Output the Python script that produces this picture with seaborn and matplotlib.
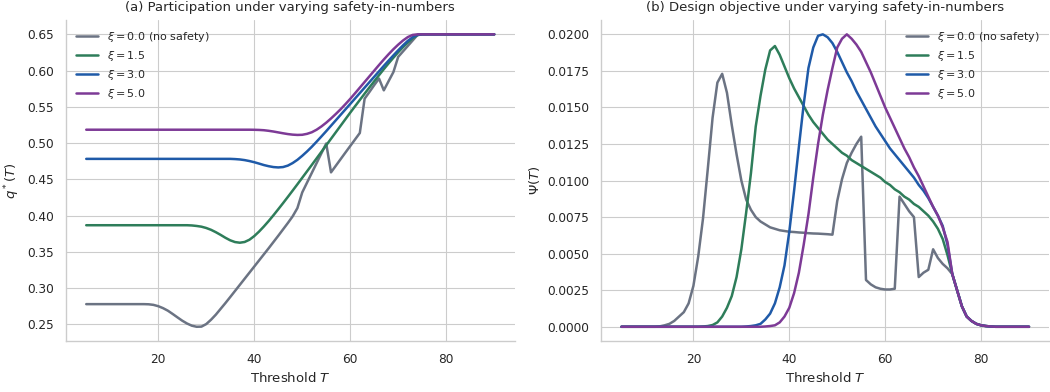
import numpy as np
import pandas as pd
import seaborn as sns
import matplotlib
matplotlib.use("Agg")
import matplotlib.pyplot as plt

# Threshold grid
T = np.arange(5, 91)

# Equilibrium participation q*(T) for each safety-in-numbers strength xi
q_xi0 = [
    0.278, 0.278, 0.278, 0.278, 0.278, 0.278, 0.278, 0.278, 0.278, 0.278,
    0.278, 0.278, 0.278, 0.2778, 0.2770, 0.2752, 0.2725, 0.2690, 0.2645, 0.2598,
    0.2552, 0.2513, 0.2483, 0.2468, 0.2470, 0.2505, 0.2565, 0.2635, 0.2715, 0.2795,
    0.2878, 0.2962, 0.3046, 0.3130, 0.3214, 0.3298, 0.3382, 0.3466, 0.3550, 0.3636,
    0.3722, 0.3810, 0.3898, 0.3990, 0.4105, 0.4320, 0.4455, 0.4590, 0.4725, 0.4860,
    0.4995, 0.4597, 0.4688, 0.4779, 0.4870, 0.4960, 0.5050, 0.5140, 0.5613, 0.5705,
    0.5800, 0.5890, 0.5728, 0.5855, 0.5980, 0.6190, 0.6265, 0.6340, 0.6415, 0.6490,
    0.65, 0.65, 0.65, 0.65, 0.65, 0.65, 0.65, 0.65, 0.65, 0.65,
    0.65, 0.65, 0.65, 0.65, 0.65, 0.65,
]
q_xi15 = [
    0.3868, 0.3868, 0.3868, 0.3868, 0.3868, 0.3868, 0.3868, 0.3868, 0.3868, 0.3868,
    0.3868, 0.3868, 0.3868, 0.3868, 0.3868, 0.3868, 0.3868, 0.3868, 0.3868, 0.3868,
    0.3868, 0.3868, 0.3865, 0.3858, 0.3848, 0.3830, 0.3805, 0.3772, 0.3735, 0.3695,
    0.3660, 0.3636, 0.3627, 0.3637, 0.3668, 0.3718, 0.3780, 0.3850, 0.3925, 0.4005,
    0.4088, 0.4172, 0.4258, 0.4345, 0.4433, 0.4522, 0.4611, 0.4700, 0.4790, 0.4880,
    0.4970, 0.5060, 0.5150, 0.5240, 0.5330, 0.5420, 0.5508, 0.5595, 0.5682, 0.5768,
    0.5853, 0.5937, 0.6020, 0.6100, 0.6178, 0.6253, 0.6323, 0.6388, 0.6445, 0.6490,
    0.65, 0.65, 0.65, 0.65, 0.65, 0.65, 0.65, 0.65, 0.65, 0.65,
    0.65, 0.65, 0.65, 0.65, 0.65, 0.65,
]
q_xi30 = [
    0.4783, 0.4783, 0.4783, 0.4783, 0.4783, 0.4783, 0.4783, 0.4783, 0.4783, 0.4783,
    0.4783, 0.4783, 0.4783, 0.4783, 0.4783, 0.4783, 0.4783, 0.4783, 0.4783, 0.4783,
    0.4783, 0.4783, 0.4783, 0.4783, 0.4783, 0.4783, 0.4783, 0.4783, 0.4783, 0.4783,
    0.4783, 0.4780, 0.4775, 0.4766, 0.4753, 0.4737, 0.4718, 0.4698, 0.4682, 0.4670,
    0.4665, 0.4670, 0.4690, 0.4725, 0.4770, 0.4825, 0.4885, 0.4950, 0.5020, 0.5092,
    0.5165, 0.5240, 0.5315, 0.5390, 0.5465, 0.5540, 0.5615, 0.5690, 0.5765, 0.5840,
    0.5915, 0.5990, 0.6065, 0.6138, 0.6210, 0.6280, 0.6348, 0.6410, 0.6460, 0.6492,
    0.65, 0.65, 0.65, 0.65, 0.65, 0.65, 0.65, 0.65, 0.65, 0.65,
    0.65, 0.65, 0.65, 0.65, 0.65, 0.65,
]
q_xi50 = [
    0.5185, 0.5185, 0.5185, 0.5185, 0.5185, 0.5185, 0.5185, 0.5185, 0.5185, 0.5185,
    0.5185, 0.5185, 0.5185, 0.5185, 0.5185, 0.5185, 0.5185, 0.5185, 0.5185, 0.5185,
    0.5185, 0.5185, 0.5185, 0.5185, 0.5185, 0.5185, 0.5185, 0.5185, 0.5185, 0.5185,
    0.5185, 0.5185, 0.5185, 0.5185, 0.5185, 0.5184, 0.5182, 0.5178, 0.5170, 0.5160,
    0.5148, 0.5136, 0.5125, 0.5117, 0.5113, 0.5115, 0.5128, 0.5150, 0.5185, 0.5230,
    0.5282, 0.5340, 0.5402, 0.5467, 0.5537, 0.5610, 0.5687, 0.5765, 0.5843, 0.5921,
    0.5999, 0.6077, 0.6153, 0.6226, 0.6295, 0.6358, 0.6415, 0.6462, 0.6492, 0.6500,
    0.65, 0.65, 0.65, 0.65, 0.65, 0.65, 0.65, 0.65, 0.65, 0.65,
    0.65, 0.65, 0.65, 0.65, 0.65, 0.65,
]

# Design objective Psi(T) for each xi
psi_xi0 = [
    0.0, 0.0, 0.0, 0.0, 0.0, 0.0, 0.0, 0.0, 0.00003, 0.0001,
    0.0002, 0.0004, 0.0007, 0.0010, 0.0016, 0.0028, 0.0048, 0.0074, 0.0108, 0.0143,
    0.0167, 0.0173, 0.0160, 0.0138, 0.0118, 0.0100, 0.0087, 0.0080, 0.0075, 0.0072,
    0.0070, 0.0068, 0.0067, 0.0066, 0.00655, 0.0065, 0.00648, 0.00645, 0.00643, 0.0064,
    0.00638, 0.00637, 0.00635, 0.00633, 0.0063, 0.0086, 0.0101, 0.0112, 0.0119, 0.0125,
    0.0130, 0.0032, 0.0029, 0.0027, 0.0026, 0.00255, 0.00255, 0.0026, 0.0089, 0.0084,
    0.0079, 0.0075, 0.0034, 0.0037, 0.0039, 0.0053, 0.0047, 0.0043, 0.0040, 0.0036,
    0.0025, 0.0014, 0.0007, 0.0004, 0.0002, 0.0001, 0.00005, 0.00002, 0.0, 0.0,
    0.0, 0.0, 0.0, 0.0, 0.0, 0.0,
]
psi_xi15 = [
    0.0, 0.0, 0.0, 0.0, 0.0, 0.0, 0.0, 0.0, 0.0, 0.0,
    0.0, 0.0, 0.0, 0.0, 0.0, 0.0, 0.0, 0.00002, 0.00005, 0.00012,
    0.0003, 0.0007, 0.0013, 0.0021, 0.0034, 0.0053, 0.0078, 0.0105, 0.0137, 0.0158,
    0.0176, 0.0189, 0.0192, 0.0186, 0.0178, 0.0170, 0.0163, 0.0157, 0.0151, 0.0145,
    0.0140, 0.0136, 0.0132, 0.0128, 0.0125, 0.0122, 0.0119, 0.0117, 0.0114, 0.0112,
    0.0110, 0.0108, 0.0106, 0.0104, 0.0102, 0.0099, 0.0097, 0.0094, 0.0092, 0.0089,
    0.0087, 0.0084, 0.0082, 0.0079, 0.0076, 0.0072, 0.0067, 0.0060, 0.0049, 0.0036,
    0.0025, 0.0014, 0.0007, 0.0004, 0.0002, 0.0001, 0.00005, 0.00002, 0.0, 0.0,
    0.0, 0.0, 0.0, 0.0, 0.0, 0.0,
]
psi_xi30 = [
    0.0, 0.0, 0.0, 0.0, 0.0, 0.0, 0.0, 0.0, 0.0, 0.0,
    0.0, 0.0, 0.0, 0.0, 0.0, 0.0, 0.0, 0.0, 0.0, 0.0,
    0.0, 0.0, 0.0, 0.0, 0.0, 0.0, 0.00002, 0.00005, 0.0001, 0.0002,
    0.0005, 0.0009, 0.0016, 0.0027, 0.0042, 0.0065, 0.0093, 0.0123, 0.0152, 0.0177,
    0.0191, 0.0199, 0.0200, 0.0198, 0.0194, 0.0188, 0.0181, 0.0174, 0.0168, 0.0161,
    0.0155, 0.0149, 0.0143, 0.0137, 0.0132, 0.0127, 0.0122, 0.0118, 0.0114, 0.0110,
    0.0106, 0.0102, 0.0097, 0.0093, 0.0088, 0.0082, 0.0076, 0.0069, 0.0056, 0.0036,
    0.0025, 0.0014, 0.0007, 0.0004, 0.0002, 0.0001, 0.00005, 0.00002, 0.0, 0.0,
    0.0, 0.0, 0.0, 0.0, 0.0, 0.0,
]
psi_xi50 = [
    0.0, 0.0, 0.0, 0.0, 0.0, 0.0, 0.0, 0.0, 0.0, 0.0,
    0.0, 0.0, 0.0, 0.0, 0.0, 0.0, 0.0, 0.0, 0.0, 0.0,
    0.0, 0.0, 0.0, 0.0, 0.0, 0.0, 0.0, 0.0, 0.0, 0.0,
    0.00002, 0.00005, 0.0001, 0.0003, 0.0007, 0.0013, 0.0023, 0.0037, 0.0056, 0.0077,
    0.0102, 0.0125, 0.0145, 0.0162, 0.0177, 0.0191, 0.0197, 0.0200, 0.0197, 0.0193,
    0.0188, 0.0181, 0.0174, 0.0166, 0.0158, 0.0150, 0.0143, 0.0136, 0.0129, 0.0122,
    0.0116, 0.0109, 0.0103, 0.0096, 0.0089, 0.0082, 0.0076, 0.0068, 0.0058, 0.0036,
    0.0025, 0.0014, 0.0007, 0.0004, 0.0002, 0.0001, 0.00005, 0.00002, 0.0, 0.0,
    0.0, 0.0, 0.0, 0.0, 0.0, 0.0,
]

series_labels = [
    r"$\xi = 0.0$ (no safety)",
    r"$\xi = 1.5$",
    r"$\xi = 3.0$",
    r"$\xi = 5.0$",
]
colors = ["#6b7383", "#2e7d5a", "#1f5aa8", "#7d3a96"]

q_series = [q_xi0, q_xi15, q_xi30, q_xi50]
psi_series = [psi_xi0, psi_xi15, psi_xi30, psi_xi50]

frames = []
for label, q, psi in zip(series_labels, q_series, psi_series):
    frames.append(pd.DataFrame({"T": T, "q": q, "psi": psi, "xi": label}))
df = pd.concat(frames, ignore_index=True)

sns.set_theme(style="whitegrid", context="paper")
plt.rcParams.update({
    "xtick.labelsize": 8.7,
    "ytick.labelsize": 8.7,
    "axes.labelsize": 9.5,
    "axes.titlesize": 9.5,
    "legend.fontsize": 8,
})
palette = dict(zip(series_labels, colors))

fig = plt.figure(figsize=(10.5, 3.92), dpi=100)
ax1 = fig.add_axes([0.0627, 0.1291, 0.4274, 0.8206])
ax2 = fig.add_axes([0.5725, 0.1291, 0.4269, 0.8206])

sns.lineplot(data=df, x="T", y="q", hue="xi", hue_order=series_labels,
             palette=palette, linewidth=1.8, ax=ax1)
sns.lineplot(data=df, x="T", y="psi", hue="xi", hue_order=series_labels,
             palette=palette, linewidth=1.8, ax=ax2)

ax1.set_title("(a) Participation under varying safety-in-numbers")
ax1.set_xlabel(r"Threshold $T$")
ax1.set_ylabel(r"$q^*(T)$")
ax2.set_title("(b) Design objective under varying safety-in-numbers")
ax2.set_xlabel(r"Threshold $T$")
ax2.set_ylabel(r"$\Psi(T)$")

sns.move_legend(ax1, "upper left", frameon=False, title=None,
                labelspacing=0.45)
sns.move_legend(ax2, "upper right", frameon=False, title=None,
                labelspacing=0.45)

for ax in (ax1, ax2):
    sns.despine(ax=ax)

fig.savefig("out.png", dpi=100)
